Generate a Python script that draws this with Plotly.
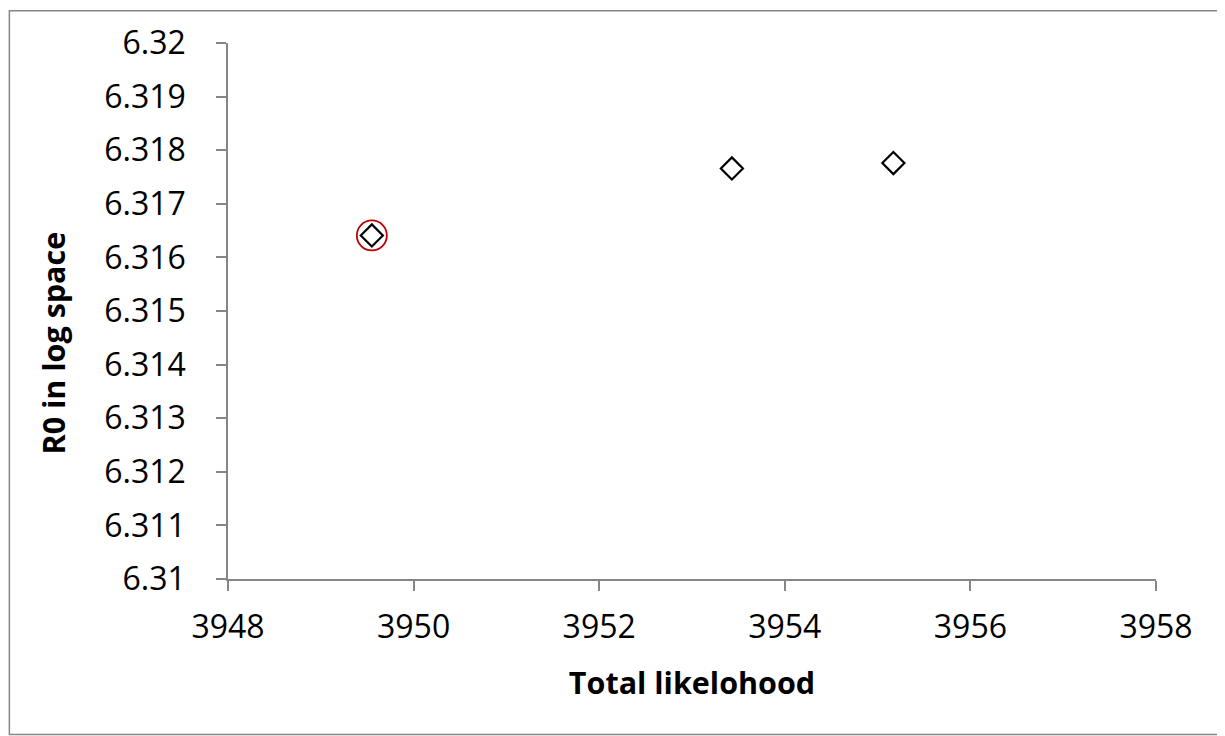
import plotly.graph_objects as go

# Data
likelihood = [3949.55, 3953.43, 3955.17]
r0_log = [6.31641, 6.31766, 6.31776]
best_x = [3949.55]
best_y = [6.31641]

x_ticks = [3948, 3950, 3952, 3954, 3956, 3958]
y_ticks = [6.310, 6.311, 6.312, 6.313, 6.314, 6.315, 6.316, 6.317, 6.318, 6.319, 6.320]
y_tick_text = ["6.31", "6.311", "6.312", "6.313", "6.314", "6.315", "6.316", "6.317", "6.318", "6.319", "6.32"]

# page body has an 8px margin, so figure pixels = window pixels - 8
OFF = 8
W, H = 1225, 736
L, R, T, B = 227.5 - OFF, 1156 - OFF, 41 - OFF, 579 - OFF

fig = go.Figure()
fig.add_trace(go.Scatter(
    x=best_x, y=best_y, mode="markers",
    marker=dict(symbol="circle-open", size=30, color="#C00000", line=dict(width=1.8, color="#C00000")),
    showlegend=False, hoverinfo="skip"))
fig.add_trace(go.Scatter(
    x=likelihood, y=r0_log, mode="markers",
    marker=dict(symbol="diamond", size=17, color="white", line=dict(width=2.2, color="black")),
    showlegend=False))

font_family = "Open Sans, Liberation Sans, sans-serif"
axis_common = dict(showgrid=False, zeroline=False, showline=True, linecolor="#868686", linewidth=1.5,
                   ticks="outside", ticklen=10, tickcolor="#868686", tickwidth=1.5,
                   tickfont=dict(family=font_family, size=32, color="black"))

fig.update_layout(
    width=W, height=H,
    margin=dict(l=L, r=W - R, t=T, b=H - B, pad=0),
    paper_bgcolor="white", plot_bgcolor="white",
    xaxis=dict(range=[3948, 3958], tickvals=x_ticks, ticktext=[str(v) for v in x_ticks],
               ticklabelstandoff=9,
               title=dict(text="<b>Total likelohood</b>", font=dict(family=font_family, size=30.5, color="black"), standoff=26),
               **axis_common),
    yaxis=dict(range=[6.31, 6.32], tickvals=y_ticks, ticktext=y_tick_text,
               ticklabelstandoff=24,
               **axis_common),
)

# outer chart border
def px_to_paper_x(px):
    return (px - L) / (R - L)

def px_to_paper_y(py):
    return (B - py) / (B - T)

fig.add_annotation(text="<b>R0 in log space</b>", textangle=-90, showarrow=False,
                   xref="paper", yref="paper",
                   x=px_to_paper_x(52 - OFF), y=px_to_paper_y(342 - OFF),
                   xanchor="center", yanchor="middle",
                   font=dict(family=font_family, size=30.5, color="black"))

fig.add_shape(type="rect", xref="paper", yref="paper",
              x0=px_to_paper_x(0.75), x1=px_to_paper_x(1221 - OFF),
              y0=px_to_paper_y(735 - OFF), y1=px_to_paper_y(0.75),
              line=dict(color="#868686", width=1.5), fillcolor="rgba(0,0,0,0)", layer="below")

fig.write_html("out.html")
